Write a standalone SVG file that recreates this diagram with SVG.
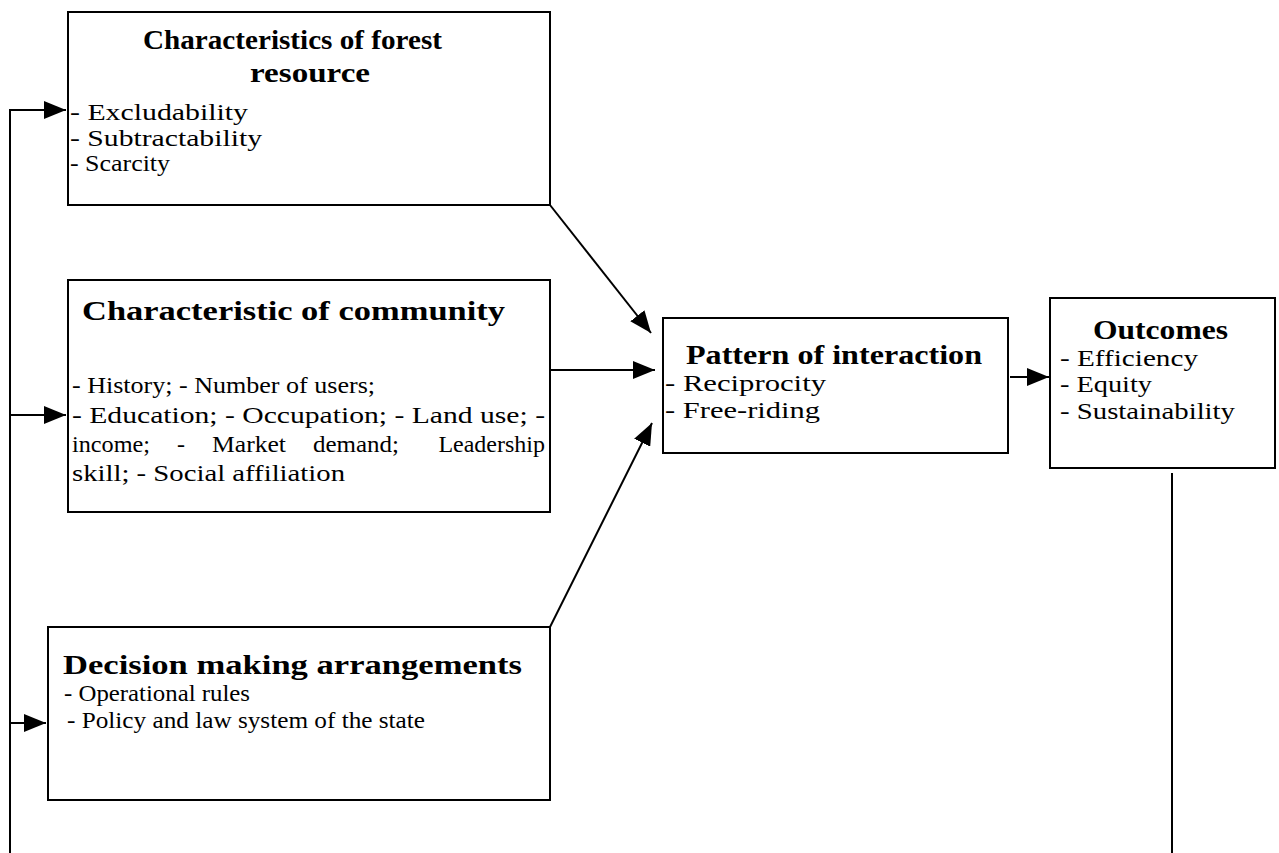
<svg xmlns="http://www.w3.org/2000/svg" width="1279" height="853" viewBox="0 0 1279 853">
<style>
.box{fill:#fff;stroke:#000;stroke-width:2}
.t{font-family:"Liberation Serif","Times New Roman",serif;font-weight:bold;font-size:28px;fill:#000}
.b{font-family:"Liberation Serif","Times New Roman",serif;font-size:24px;fill:#000}
.c{stroke:#000;stroke-width:2;fill:none}
</style>
<defs>
<marker id="ah" viewBox="0 0 22 18" refX="22" refY="9" markerWidth="22" markerHeight="18" markerUnits="userSpaceOnUse" orient="auto">
<path d="M0,0 L22,9 L0,18 Z" fill="#000"/>
</marker>
</defs>
<rect width="1279" height="853" fill="#fff"/>
<g id="connectors">
<polyline class="c" points="10,853 10,110 66,110" marker-end="url(#ah)"/>
<line class="c" x1="10" y1="415" x2="66" y2="415" marker-end="url(#ah)"/>
<line class="c" x1="10" y1="723" x2="46" y2="723" marker-end="url(#ah)"/>
<line class="c" x1="550" y1="205" x2="651" y2="333" marker-end="url(#ah)"/>
<line class="c" x1="550" y1="370" x2="655" y2="370" marker-end="url(#ah)"/>
<line class="c" x1="550" y1="627" x2="652" y2="423" marker-end="url(#ah)"/>
<line class="c" x1="1010" y1="377" x2="1049" y2="377" marker-end="url(#ah)"/>
<line class="c" x1="1172" y1="473" x2="1172" y2="853"/>
</g>
<g id="forest">
<rect class="box" x="68" y="12" width="482" height="193"/>
<text class="t" x="143" y="49" textLength="299" lengthAdjust="spacingAndGlyphs">Characteristics of forest</text>
<text class="t" x="250" y="82" textLength="120" lengthAdjust="spacingAndGlyphs">resource</text>
<text class="b" x="70" y="120" textLength="178" lengthAdjust="spacingAndGlyphs">- Excludability</text>
<text class="b" x="70" y="146" textLength="192" lengthAdjust="spacingAndGlyphs">- Subtractability</text>
<text class="b" x="70" y="171" textLength="100" lengthAdjust="spacingAndGlyphs">- Scarcity</text>
</g>
<g id="community">
<rect class="box" x="68" y="280" width="482" height="232"/>
<text class="t" x="82" y="320" textLength="423" lengthAdjust="spacingAndGlyphs">Characteristic of community</text>
<text class="b" x="72" y="393" textLength="303" lengthAdjust="spacingAndGlyphs">- History; - Number of users;</text>
<text class="b" x="72" y="423" textLength="473" lengthAdjust="spacingAndGlyphs">- Education; - Occupation; - Land use; -</text>
<text class="b" x="72" y="452" textLength="78" lengthAdjust="spacingAndGlyphs">income;</text>
<text class="b" x="177" y="452">-</text>
<text class="b" x="212" y="452" textLength="74" lengthAdjust="spacingAndGlyphs">Market</text>
<text class="b" x="313" y="452" textLength="86" lengthAdjust="spacingAndGlyphs">demand;</text>
<text class="b" x="545" y="452" text-anchor="end">Leadership</text>
<text class="b" x="72" y="481" textLength="273" lengthAdjust="spacingAndGlyphs">skill; - Social affiliation</text>
</g>
<g id="decision">
<rect class="box" x="48" y="627" width="502" height="173"/>
<text class="t" x="63" y="674" textLength="459" lengthAdjust="spacingAndGlyphs">Decision making arrangements</text>
<text class="b" x="64" y="701" textLength="186" lengthAdjust="spacingAndGlyphs">- Operational rules</text>
<text class="b" x="67" y="728" textLength="358" lengthAdjust="spacingAndGlyphs">- Policy and law system of the state</text>
</g>
<g id="pattern">
<rect class="box" x="663" y="318" width="345" height="135"/>
<text class="t" x="686" y="364" textLength="296" lengthAdjust="spacingAndGlyphs">Pattern of interaction</text>
<text class="b" x="665" y="391" textLength="161" lengthAdjust="spacingAndGlyphs">- Reciprocity</text>
<text class="b" x="665" y="418" textLength="155" lengthAdjust="spacingAndGlyphs">- Free-riding</text>
</g>
<g id="outcomes">
<rect class="box" x="1050" y="298" width="225" height="170"/>
<text class="t" x="1093" y="339" textLength="135" lengthAdjust="spacingAndGlyphs">Outcomes</text>
<text class="b" x="1060" y="366" textLength="138" lengthAdjust="spacingAndGlyphs">- Efficiency</text>
<text class="b" x="1060" y="392" textLength="92" lengthAdjust="spacingAndGlyphs">- Equity</text>
<text class="b" x="1060" y="419" textLength="175" lengthAdjust="spacingAndGlyphs">- Sustainability</text>
</g>
</svg>
